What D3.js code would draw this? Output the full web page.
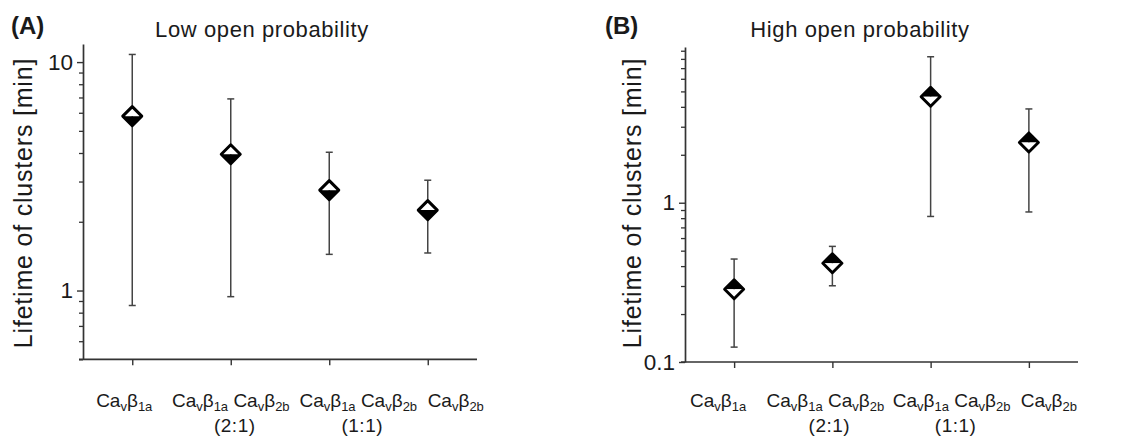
<!DOCTYPE html>
<html>
<head>
<meta charset="utf-8">
<script src="https://cdn.jsdelivr.net/npm/d3@7"></script>
<style>
  body { margin: 0; background: #fff; }
  text { font-family: Arial, "Liberation Sans", sans-serif; fill: #1a1a1a; }
</style>
</head>
<body>
<svg id="chart" width="1121" height="442"></svg>
<script>
// category labels: "_x" marks a subscript
const categories = ["Ca_vβ_1a", "Ca_vβ_1a Ca_vβ_2b", "Ca_vβ_1a Ca_vβ_2b", "Ca_vβ_2b"];
const ratios = ["", "(2:1)", "(1:1)", ""];

// low open probability (panel A)
const lowMean  = [5.8, 3.95, 2.75, 2.25];
const lowUpper = [10.8, 6.9, 4.03, 3.04];
const lowLower = [0.86, 0.94, 1.44, 1.46];
const lowTicks = [1, 10];

// high open probability (panel B)
const highMean  = [0.286, 0.417, 4.63, 2.39];
const highUpper = [0.443, 0.532, 8.25, 3.88];
const highLower = [0.124, 0.301, 0.82, 0.875];
const highTicks = [0.1, 1];

const svg = d3.select('#chart');

const panels = [
  {
    tag: '(A)', title: 'Low open probability',
    mean: lowMean, upper: lowUpper, lower: lowLower, ticks: lowTicks,
    domain: [0.5, 12], left: 83, right: 477, top: 44, bottom: 359.3,
    tagX: 11, titleX: 262, ylabelX: 23, shift: [-8, 0, 29, 28], topBlack: false
  },
  {
    tag: '(B)', title: 'High open probability',
    mean: highMean, upper: highUpper, lower: highLower, ticks: highTicks,
    domain: [0.1, 9.5], left: 685, right: 1078, top: 47, bottom: 362,
    tagX: 605, titleX: 860, ylabelX: 632, shift: [-16, -7, 21, 20], topBlack: true
  }
];

function minorTicks(domain) {
  const out = [];
  for (let p = -3; p <= 3; p++) {
    for (let m = 2; m <= 9; m++) {
      const v = m * Math.pow(10, p);
      if (v >= domain[0] && v <= domain[1]) out.push(v);
    }
  }
  return out;
}

function addLabel(sel, str, size, subSize) {
  const parts = str.split(/_(\w+)/);
  let sub = false;
  parts.forEach((p, i) => {
    const isSub = i % 2 === 1;
    if (!p) return;
    const t = sel.append('tspan').text(p).attr('font-size', isSub ? subSize : size);
    if (isSub && !sub) t.attr('dy', 4);
    if (!isSub && sub) t.attr('dy', -4);
    sub = isSub;
  });
}

panels.forEach(p => {
  const g = svg.append('g');
  const idx = d3.range(categories.length);

  const x = d3.scalePoint().domain(idx).range([p.left, p.right]).padding(0.5);
  const y = d3.scaleLog().domain(p.domain).range([p.bottom, p.top]);

  // minor ticks
  g.append('g')
    .attr('transform', `translate(${p.left},0)`)
    .call(d3.axisLeft(y).tickValues(minorTicks(p.domain)).tickSize(4).tickFormat(''))
    .call(a => a.select('.domain').remove())
    .call(a => a.selectAll('line').attr('stroke', '#333').attr('stroke-width', 1.3));

  // major y axis
  g.append('g')
    .attr('transform', `translate(${p.left},0)`)
    .call(d3.axisLeft(y).tickValues(p.ticks).tickSize(6).tickSizeOuter(0).tickPadding(4)
      .tickFormat(d => d >= 1 ? d3.format('d')(d) : String(d)))
    .call(a => a.select('.domain').attr('stroke', '#333').attr('stroke-width', 1.7))
    .call(a => a.selectAll('line').attr('stroke', '#333').attr('stroke-width', 1.4))
    .call(a => a.selectAll('text').attr('font-size', 22.5).attr('fill', '#1a1a1a'));

  // x axis
  const xa = g.append('g')
    .attr('transform', `translate(0,${p.bottom})`)
    .call(d3.axisBottom(x).tickSize(6).tickSizeOuter(0).tickFormat(''));
  xa.select('.domain').attr('stroke', '#333').attr('stroke-width', 1.7)
    .attr('d', `M${p.left - 4},0H${p.right}`);
  xa.selectAll('line').attr('stroke', '#333').attr('stroke-width', 1.4);

  // category labels
  idx.forEach(i => {
    const t = g.append('text')
      .attr('x', x(i) + p.shift[i]).attr('y', 407)
      .attr('text-anchor', 'middle').attr('font-size', 19);
    addLabel(t, categories[i], 19, 13);
    if (ratios[i]) {
      g.append('text')
        .attr('x', x(i) + p.shift[i] + 4).attr('y', 432)
        .attr('text-anchor', 'middle').attr('font-size', 19)
        .attr('letter-spacing', 0.5)
        .text(ratios[i]);
    }
  });

  // error bars
  const eb = g.append('g').attr('stroke', '#444').attr('stroke-width', 1.5);
  idx.forEach(i => {
    const cx = x(i);
    eb.append('line').attr('x1', cx).attr('x2', cx)
      .attr('y1', y(p.upper[i])).attr('y2', y(p.lower[i]));
    [p.upper[i], p.lower[i]].forEach(v => {
      eb.append('line').attr('x1', cx - 3.5).attr('x2', cx + 3.5)
        .attr('y1', y(v)).attr('y2', y(v));
    });
  });

  // half-filled diamonds
  const w = 9.5, h = 9.5;
  idx.forEach(i => {
    const cx = x(i), cy = y(p.mean[i]);
    const mk = g.append('g').attr('transform', `translate(${cx},${cy})`);
    mk.append('path').attr('d', `M${-w},0L0,${-h}L${w},0Z`)
      .attr('fill', p.topBlack ? '#000' : '#fff');
    mk.append('path').attr('d', `M${-w},0L0,${h}L${w},0Z`)
      .attr('fill', p.topBlack ? '#fff' : '#000');
    mk.append('path').attr('d', `M${-w},0L0,${-h}L${w},0L0,${h}Z`)
      .attr('fill', 'none').attr('stroke', '#000').attr('stroke-width', 3)
      .attr('stroke-linejoin', 'round');
  });

  // titles and labels
  svg.append('text').attr('x', p.tagX).attr('y', 34)
    .attr('font-size', 24).attr('font-weight', 'bold').text(p.tag);
  svg.append('text').attr('x', p.titleX).attr('y', 37)
    .attr('text-anchor', 'middle').attr('font-size', 22)
    .attr('letter-spacing', 0.6).text(p.title);
  svg.append('text')
    .attr('transform', `translate(${p.ylabelX},203) rotate(-90)`)
    .attr('text-anchor', 'middle').attr('dominant-baseline', 'central')
    .attr('font-size', 25).attr('letter-spacing', 0.8)
    .text('Lifetime of clusters [min]');
});
</script>
</body>
</html>
